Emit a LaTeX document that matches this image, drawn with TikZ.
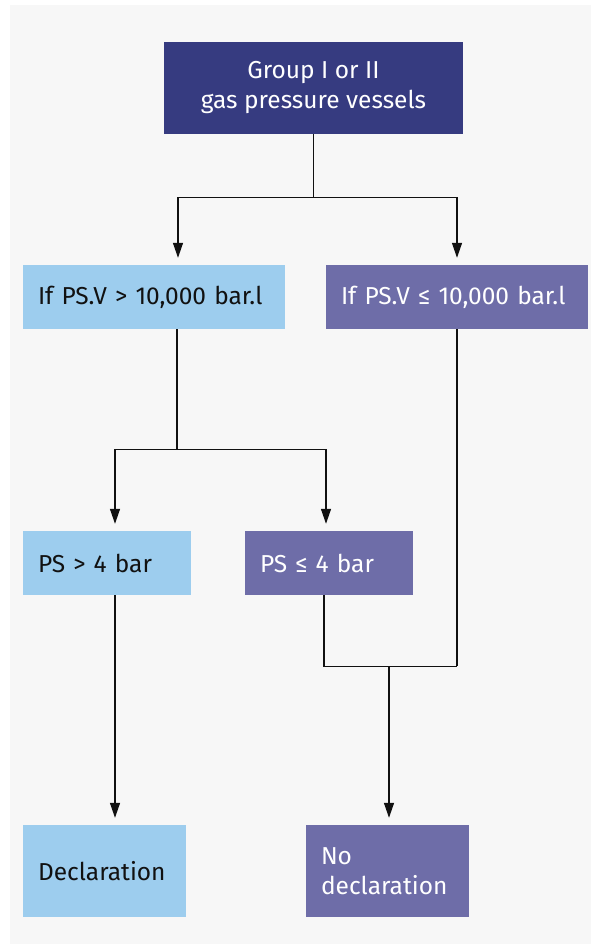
\documentclass[tikz,border=0pt]{standalone}
\usepackage{fontspec}
\setmainfont{Fira Sans}
\usetikzlibrary{arrows.meta,calc}

\definecolor{panel}{RGB}{247,247,247}
\definecolor{navy}{RGB}{54,59,128}
\definecolor{skyblue}{RGB}{157,205,238}
\definecolor{lilac}{RGB}{110,109,168}
\definecolor{ink}{RGB}{17,17,17}

\tikzset{
  box/.style={rectangle, inner xsep=15pt, inner ysep=0pt, align=left,
    font=\fontsize{24.5}{30}\selectfont},
  yesbox/.style={box, fill=skyblue, text=ink},
  nobox/.style={box, fill=lilac, text=white},
  link/.style={line width=1.3pt, draw=ink},
  arrowlink/.style={link, -{Triangle[length=15pt,width=10pt]}, shorten >=7pt},
}

\begin{document}
\begin{tikzpicture}[x=1pt,y=-1pt]
  % canvas and grey panel
  \useasboundingbox (0,0) rectangle (591,947);
  \fill[white] (0,0) rectangle (591,947);
  \fill[panel] (10,5) rectangle (591,944);

  % boxes
  \node[box, fill=navy, text=white, align=center, minimum width=299pt, minimum height=92pt]
    (top) at (313.5,88) {Group I or II\\gas pressure vessels};

  \node[yesbox, text width=232pt, minimum height=64pt] (pvg) at (154,297)
    {If PS.V > 10,000 bar.l};
  \node[nobox, text width=232pt, minimum height=64pt] (pvl) at (457,297)
    {If PS.V ≤ 10,000 bar.l};

  \node[yesbox, text width=138pt, minimum height=64pt] (psg) at (107,563)
    {PS > 4 bar};
  \node[nobox, text width=138pt, minimum height=64pt] (psl) at (329,563)
    {PS ≤ 4 bar};

  \node[yesbox, text width=133pt, minimum height=92pt] (decl) at (104.5,871)
    {Declaration};
  \node[nobox, text width=133pt, minimum height=92pt] (nodecl) at (387.5,871)
    {No\\declaration};

  % first split
  \draw[link] (top.south) -- ++(0,63) coordinate (j1);
  \draw[arrowlink] (j1) -| ([xshift=24pt]pvg.north);
  \draw[arrowlink] (j1) -| (pvl.north);

  % second split
  \draw[link] ([xshift=23pt]pvg.south) -- ++(0,120) coordinate (j2);
  \draw[arrowlink] (j2) -| ([xshift=8pt]psg.north);
  \draw[arrowlink] (j2) -| ([xshift=-3pt]psl.north);

  % outcomes
  \draw[arrowlink] ([xshift=8pt]psg.south) -- ([xshift=10.5pt]decl.north);
  \draw[link] ([xshift=-5pt]psl.south) |- ++(133,71) coordinate (j3);
  \draw[link] (pvl.south) -- (j3);
  \coordinate (j4) at ($(j3)+(-68,0)$);
  \draw[arrowlink] (j4) -- ([xshift=1.5pt]nodecl.north);
\end{tikzpicture}
\end{document}
